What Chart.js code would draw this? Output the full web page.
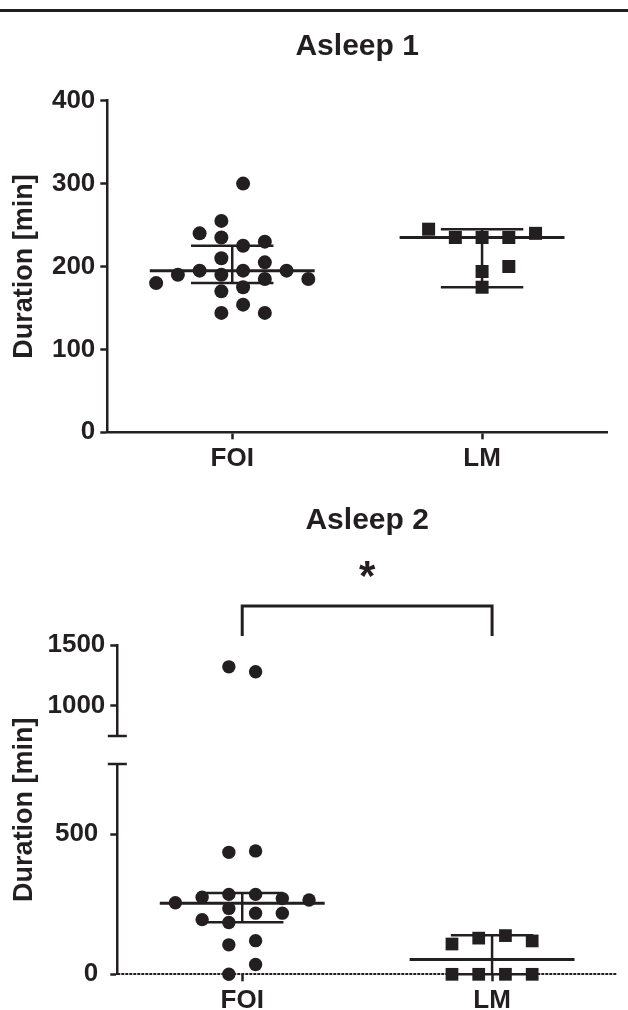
<!DOCTYPE html>
<html>
<head>
<meta charset="utf-8">
<script src="https://cdn.jsdelivr.net/npm/chart.js@4"></script>
<style>
  html, body { margin: 0; padding: 0; background: #fff; }
  body { width: 628px; height: 1010px; position: relative; overflow: hidden; }
  .rule { position: absolute; left: 0; top: 9px; width: 628px; height: 3px; background: #231f20; }
  canvas { position: absolute; left: 0; }
  #c1 { top: 0; }
  #c2 { top: 480px; }
</style>
</head>
<body>
<div class="rule"></div>
<canvas id="c1" width="628" height="480"></canvas>
<canvas id="c2" width="628" height="530"></canvas>
<script>
/* Asleep 1 / Asleep 2 — Scatter mit Median und IQR */
const groups = ["FOI", "LM"];
const yTitle = "Duration [min]";

// Asleep 1
const asleep1FOI = [300, 255, 225, 235, 230, 240, 195, 190, 210, 205, 195, 195, 190, 185, 185, 180, 175, 170, 154, 144, 144];
const asleep1LM = [235, 235, 235, 240, 245, 194, 200, 175];
const asleep1Median = [195, 235];
const asleep1Low = [180, 175];
const asleep1High = [225, 245];
const asleep1Ticks = [0, 100, 200, 300, 400];

// Asleep 2 (Achse unterbrochen bei 750)
const asleep2FOI = [1280, 1320, 440, 435, 285, 285, 270, 275, 265, 255, 218, 235, 218, 195, 185, 120, 105, 35, 0];
const asleep2LM = [138, 129, 119, 108, 0, 0, 0, 0];
const asleep2Median = [253, 53];
const asleep2Low = [186, 0];
const asleep2High = [290, 139];
const asleep2TicksLow = [0, 500];
const asleep2TicksHigh = [1000, 1500];
const asleep2Split = 750;
const asleep2Max = 1500;
const asleep2Sig = "*";

const INK = "#231f20";
const FONT = "'Liberation Sans', Arial, Helvetica, sans-serif";
Chart.defaults.font.family = FONT;
Chart.defaults.color = INK;

// einfache Beeswarm-Verteilung in Spalten
function swarm(values, center, step, gap, half) {
  const placed = [];
  let left = 0, right = 0;
  return values.map((v) => {
    const hit = (c) => placed.some((p) => p.c === c && Math.abs(p.v - v) < gap);
    let c = null;
    if (!half && !hit(0)) c = 0;
    for (let k = half ? 0.5 : 1; c === null; k++) {
      const sides = left < right ? [-k, k] : [k, -k];
      const f = sides.find((s) => !hit(s));
      if (f !== undefined) c = f;
    }
    placed.push({ c, v });
    if (c > 0) right++; else if (c < 0) left++;
    return { x: center + c * step, y: v };
  });
}

function pts(data, yAxisID, style, radius) {
  return {
    data, yAxisID, pointStyle: style, pointRadius: radius,
    backgroundColor: INK, borderColor: INK, borderWidth: 0, clip: false,
  };
}

function seg(x1, y1, x2, y2, w, yAxisID) {
  return {
    data: [{ x: x1, y: y1 }, { x: x2, y: y2 }], yAxisID,
    showLine: true, pointRadius: 0, borderColor: INK, borderWidth: w, clip: false,
  };
}

function summary(median, low, high, yAxisID) {
  const out = [];
  median.forEach((m, i) => {
    const c = i + 1;
    out.push(seg(c - 0.33, m, c + 0.33, m, 3, yAxisID));
    out.push(seg(c - 0.165, high[i], c + 0.165, high[i], 2.5, yAxisID));
    out.push(seg(c - 0.165, low[i], c + 0.165, low[i], 2.5, yAxisID));
    out.push(seg(c, low[i], c, high[i], 2.5, yAxisID));
  });
  return out;
}

const tickFont = { size: 26, weight: "bold" };
const fixedTicks = (list) => (s) => { s.ticks = list.map((value) => ({ value })); };

function xScale(height, showBorder) {
  return {
    type: "linear", min: 0.5, max: 2.5,
    afterBuildTicks: fixedTicks([1, 2]),
    afterFit: (s) => { s.height = height; },
    ticks: { callback: (v) => groups[v - 1] || "", font: tickFont, color: INK, padding: 4, autoSkip: false, maxRotation: 0 },
    grid: { drawOnChartArea: false, tickLength: 7, tickWidth: 2.5, tickColor: INK },
    border: { display: showBorder, color: INK, width: 2.5 },
  };
}

function yScale(min, max, ticks, width, pad, extra) {
  return Object.assign({
    type: "linear", position: "left", min, max,
    afterBuildTicks: fixedTicks(ticks),
    afterFit: (s) => { s.width = width; },
    ticks: { callback: (v) => String(v), font: tickFont, color: INK, padding: pad },
    grid: { drawOnChartArea: false, tickLength: 7, tickWidth: 2.5, tickColor: INK },
    border: { color: INK, width: 2.5 },
  }, extra || {});
}

// gedrehter y-Titel, mittig zur Plotfläche
const sideTitle = {
  id: "sideTitle",
  afterDraw(chart, args, opts) {
    const { ctx, chartArea } = chart;
    ctx.save();
    ctx.translate(opts.x, (chartArea.top + chartArea.bottom) / 2);
    ctx.rotate(-Math.PI / 2);
    ctx.font = "bold 27px " + FONT;
    ctx.fillStyle = INK;
    ctx.textAlign = "center";
    ctx.textBaseline = "middle";
    ctx.fillText(opts.text, 0, 0);
    ctx.restore();
  },
};

// Achsenbruch, Null-Linie, Signifikanzklammer
const brokenAxis = {
  id: "brokenAxis",
  beforeDatasetsDraw(chart) {
    const { ctx, chartArea, scales: { yLo } } = chart;
    const y0 = Math.round(yLo.getPixelForValue(0));
    ctx.save();
    ctx.strokeStyle = INK;
    ctx.lineWidth = 2;
    ctx.setLineDash([3, 1]);
    ctx.beginPath();
    ctx.moveTo(chartArea.left, y0);
    ctx.lineTo(chartArea.right, y0);
    ctx.stroke();
    ctx.restore();
  },
  afterDraw(chart, args, opts) {
    const { ctx, chartArea, scales: { x, yLo, yHi } } = chart;
    const ax = chartArea.left;
    ctx.save();
    ctx.strokeStyle = INK;
    ctx.lineWidth = 2.5;
    [yHi.bottom, yLo.top].forEach((y) => {
      ctx.beginPath();
      ctx.moveTo(ax - 9.5, y);
      ctx.lineTo(ax + 9.5, y);
      ctx.stroke();
    });
    const x1 = x.getPixelForValue(1), x2 = x.getPixelForValue(2);
    const top = chartArea.top - 39, foot = chartArea.top - 9;
    ctx.lineWidth = 3;
    ctx.beginPath();
    ctx.moveTo(x1, foot);
    ctx.lineTo(x1, top);
    ctx.lineTo(x2, top);
    ctx.lineTo(x2, foot);
    ctx.stroke();
    ctx.font = "bold 42px " + FONT;
    ctx.fillStyle = INK;
    ctx.textAlign = "center";
    ctx.textBaseline = "alphabetic";
    ctx.fillText(opts.text, (x1 + x2) / 2, chartArea.top - 55);
    ctx.restore();
  },
};

const common = {
  responsive: false,
  animation: false,
  events: [],
};

// Chart 1
new Chart(document.getElementById("c1"), {
  type: "scatter",
  data: {
    datasets: [
      pts(swarm(asleep1FOI, 1, 0.087, 18.5, true), "y", "circle", 7),
      pts(swarm(asleep1LM, 2, 0.107, 18.5, false), "y", "rect", 9.2),
      ...summary(asleep1Median, asleep1Low, asleep1High, "y"),
    ],
  },
  options: Object.assign({}, common, {
    layout: { padding: { left: 0, right: 21, top: 0, bottom: 0 } },
    plugins: {
      legend: { display: false },
      tooltip: { enabled: false },
      title: {
        display: true, text: "Asleep 1", fullSize: false, color: INK,
        font: { size: 30, weight: "bold" }, padding: { top: 28.7, bottom: 36 },
      },
      sideTitle: { text: yTitle, x: 25 },
    },
    scales: {
      x: xScale(47.7, true),
      y: yScale(0, 400, asleep1Ticks, 107.3, 5),
    },
  }),
  plugins: [sideTitle],
});

// Chart 2
const foiLow = asleep2FOI.filter((v) => v <= asleep2Split);
const foiHigh = asleep2FOI.filter((v) => v > asleep2Split);

new Chart(document.getElementById("c2"), {
  type: "scatter",
  data: {
    datasets: [
      pts(swarm(foiLow, 1, 0.107, 48, true), "yLo", "circle", 6.7),
      pts(swarm(foiHigh, 1, 0.107, 48, true), "yHi", "circle", 6.7),
      pts(swarm(asleep2LM, 2, 0.107, 48, true), "yLo", "rect", 9),
      ...summary(asleep2Median, asleep2Low, asleep2High, "yLo"),
    ],
  },
  options: Object.assign({}, common, {
    layout: { padding: { left: 0, right: 11, top: 0, bottom: 0 } },
    plugins: {
      legend: { display: false },
      tooltip: { enabled: false },
      title: {
        display: true, text: "Asleep 2", fullSize: false, color: INK,
        font: { size: 30, weight: "bold" }, padding: { top: 23.2, bottom: 105.8 },
      },
      sideTitle: { text: yTitle, x: 25 },
      brokenAxis: { text: asleep2Sig },
    },
    scales: {
      x: xScale(35.7, false),
      yLo: yScale(0, asleep2Split, asleep2TicksLow, 117.3, 12, { stack: "y", stackWeight: 210.3, weight: 1 }),
      yGap: { type: "linear", position: "left", stack: "y", stackWeight: 28, weight: 2, display: false },
      yHi: yScale(asleep2Split, asleep2Max, asleep2TicksHigh, 117.3, 5, { stack: "y", stackWeight: 91, weight: 3 }),
    },
  }),
  plugins: [sideTitle, brokenAxis],
});
</script>
</body>
</html>
